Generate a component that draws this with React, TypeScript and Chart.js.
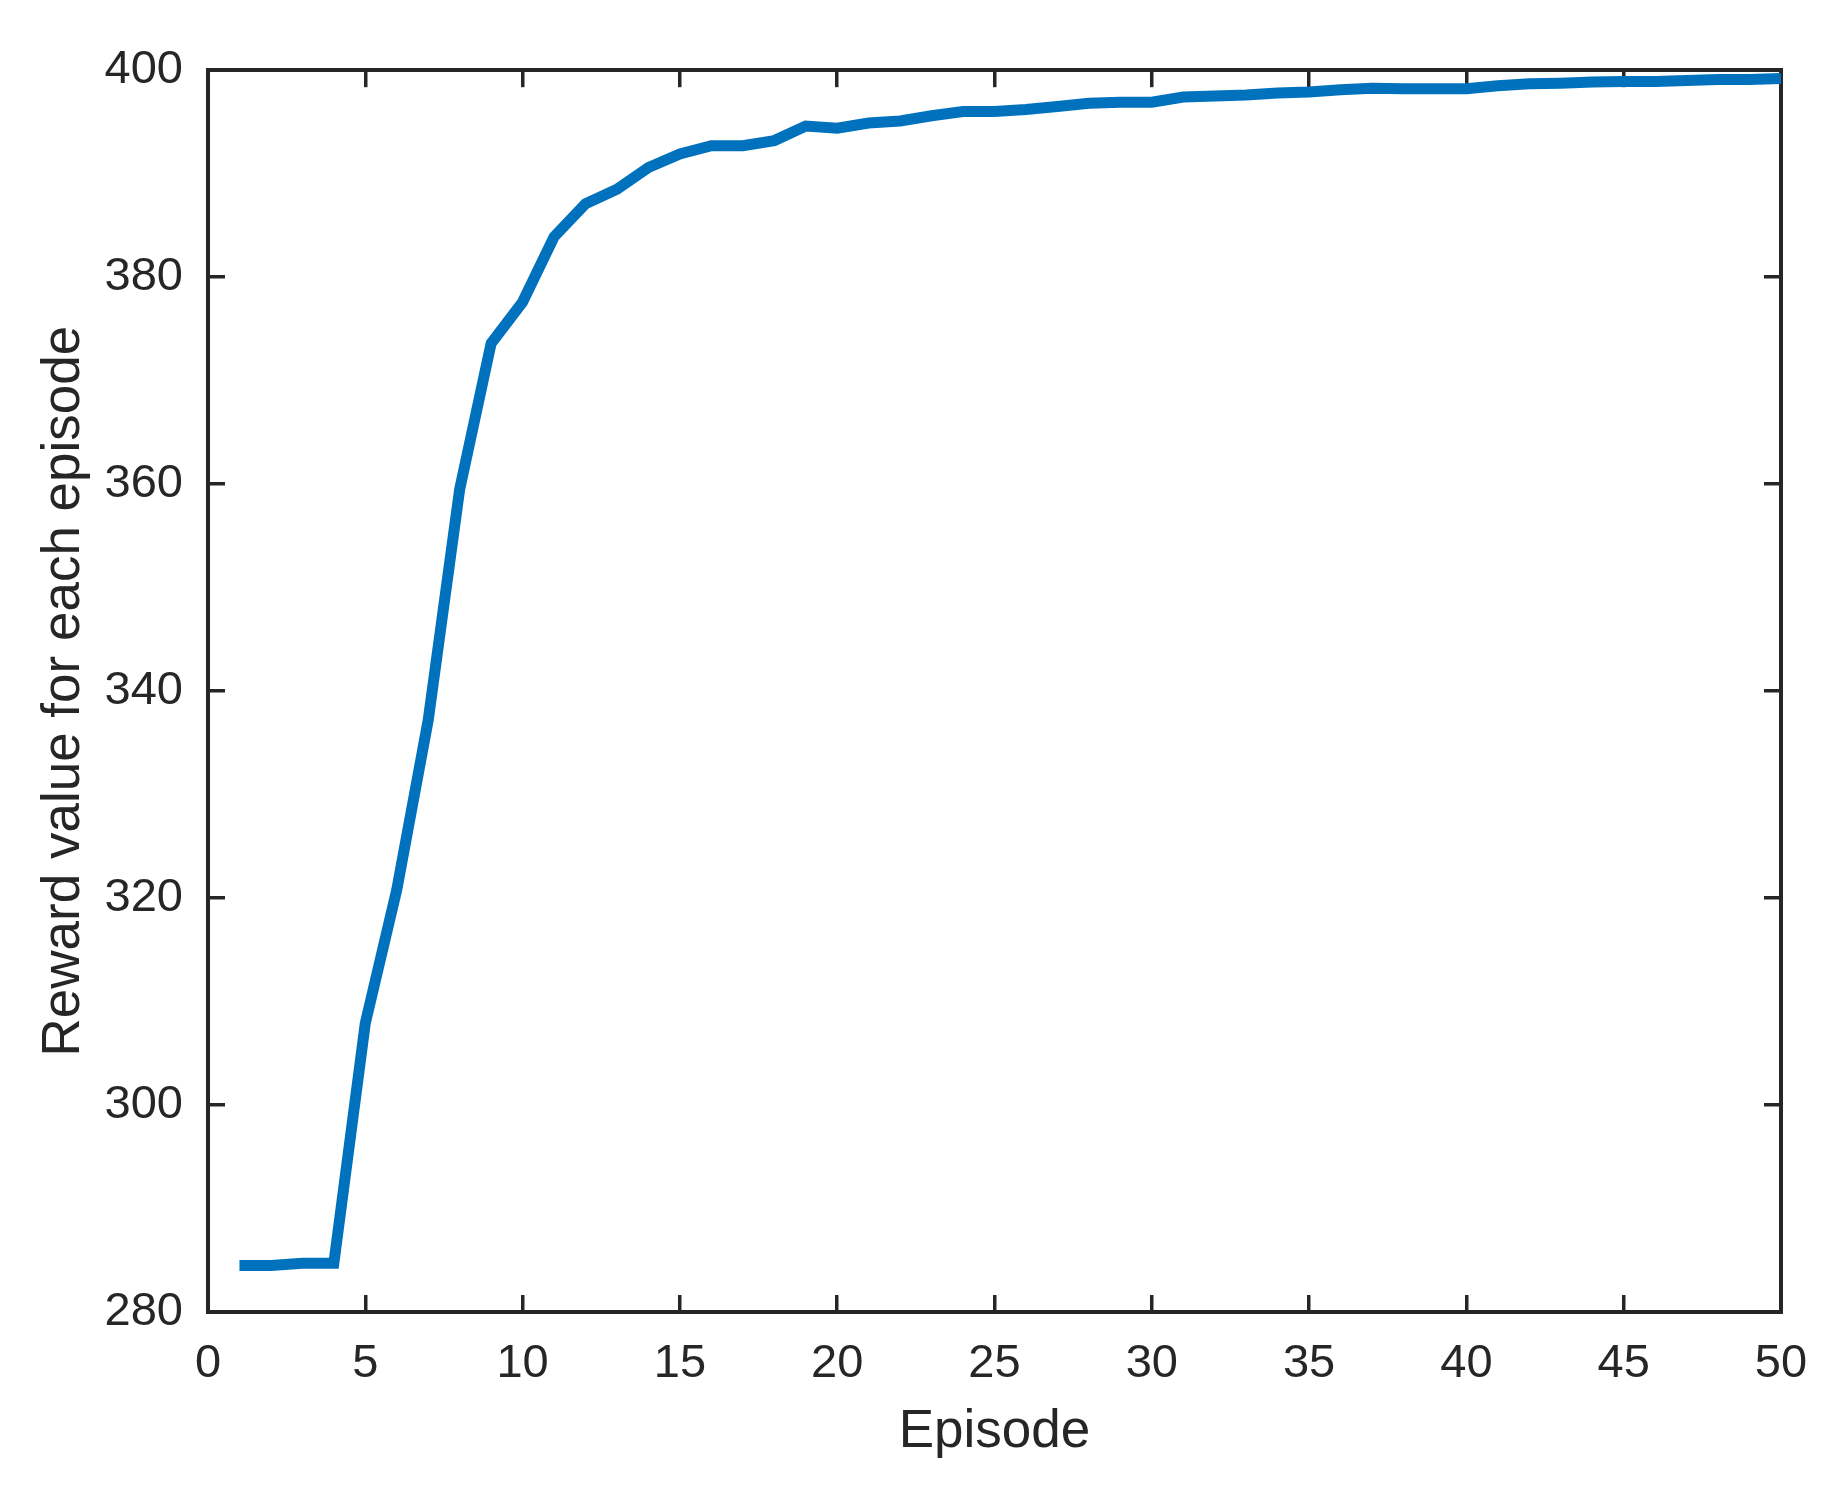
import React, { useEffect, useRef } from "react";
import { Chart, registerables } from "chart.js";

Chart.register(...registerables);

const episodes: number[] = [
  1, 2, 3, 4, 5, 6, 7, 8, 9, 10,
  11, 12, 13, 14, 15, 16, 17, 18, 19, 20,
  21, 22, 23, 24, 25, 26, 27, 28, 29, 30,
  31, 32, 33, 34, 35, 36, 37, 38, 39, 40,
  41, 42, 43, 44, 45, 46, 47, 48, 49, 50,
];

const rewards: number[] = [
  284.5, 284.5, 284.7, 284.7, 307.9, 320.8, 337.2, 359.5, 373.6, 377.6,
  383.9, 387.1, 388.5, 390.6, 391.9, 392.7, 392.7, 393.2, 394.6, 394.4,
  394.9, 395.1, 395.6, 396.0, 396.0, 396.2, 396.5, 396.8, 396.9, 396.9,
  397.4, 397.5, 397.6, 397.8, 397.9, 398.1, 398.25, 398.2, 398.2, 398.2,
  398.5, 398.7, 398.75, 398.85, 398.9, 398.9, 399.0, 399.1, 399.1, 399.2,
];

const xRange = { min: 0, max: 50, step: 5 };
const yRange = { min: 280, max: 400, step: 20 };
const xTitle = "Episode";
const yTitle = "Reward value for each episode";

const INK = "#262626";
const FONT = "'Liberation Sans', Arial, Helvetica, sans-serif";

export default function App() {
  const ref = useRef<HTMLCanvasElement | null>(null);

  useEffect(() => {
    if (!ref.current) return;
    const tickGrid = {
      drawOnChartArea: false,
      drawTicks: true,
      tickLength: -17,
      color: INK,
      lineWidth: 3.5,
    };
    const border = { display: true, color: INK, width: 4 };
    const chart = new Chart(ref.current, {
      type: "line",
      data: {
        datasets: [
          {
            data: episodes.map((e, i) => ({ x: e, y: rewards[i] })),
            borderColor: "#0072BD",
            backgroundColor: "#0072BD",
            borderWidth: 11,
            pointRadius: 0,
            tension: 0,
            fill: false,
          },
        ],
      },
      options: {
        responsive: false,
        animation: false,
        layout: { padding: { top: 70, right: 56, bottom: 0, left: 0 } },
        plugins: { legend: { display: false }, tooltip: { enabled: false } },
        scales: {
          x: {
            type: "linear",
            position: "bottom",
            min: xRange.min,
            max: xRange.max,
            ticks: {
              stepSize: xRange.step,
              color: INK,
              font: { family: FONT, size: 47 },
              padding: 41,
              maxRotation: 0,
            },
            grid: tickGrid,
            border,
            title: {
              display: true,
              text: xTitle,
              color: INK,
              font: { family: FONT, size: 53 },
              padding: { top: 0, bottom: 33 },
            },
            afterFit: (s: any) => {
              s.height = 185;
              s.paddingLeft = 0;
              s.paddingRight = 0;
            },
          },
          x2: {
            type: "linear",
            position: "top",
            min: xRange.min,
            max: xRange.max,
            ticks: { stepSize: xRange.step, display: false },
            grid: tickGrid,
            border,
            afterFit: (s: any) => {
              s.height = 0;
              s.paddingLeft = 0;
              s.paddingRight = 0;
            },
          },
          y: {
            type: "linear",
            position: "left",
            min: yRange.min,
            max: yRange.max,
            ticks: {
              stepSize: yRange.step,
              color: INK,
              font: { family: FONT, size: 47 },
              padding: 42,
            },
            grid: tickGrid,
            border,
            title: {
              display: true,
              text: yTitle,
              color: INK,
              font: { family: FONT, size: 53 },
              padding: { top: 33, bottom: 0 },
            },
            afterFit: (s: any) => {
              s.width = 208;
            },
          },
          y2: {
            type: "linear",
            position: "right",
            min: yRange.min,
            max: yRange.max,
            ticks: { stepSize: yRange.step, display: false },
            grid: tickGrid,
            border,
            afterFit: (s: any) => {
              s.width = 0;
            },
          },
        },
      },
    });
    return () => chart.destroy();
  }, []);

  return (
    <div style={{ position: "fixed", left: 0, top: 0, width: 1837, height: 1497, background: "#ffffff" }}>
      <canvas ref={ref} width={1837} height={1497} style={{ display: "block" }} />
    </div>
  );
}
